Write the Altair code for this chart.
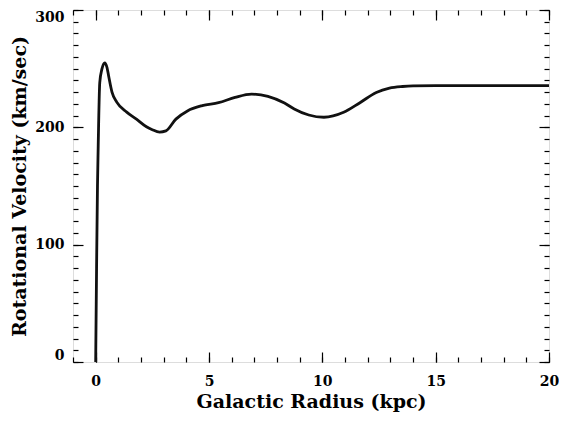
import altair as alt
import pandas as pd

# Rotation curve
radius = [0, 0.04, 0.08, 0.11, 0.18, 0.28, 0.40, 0.50, 0.57, 0.72, 0.93, 1.37,
          1.8, 2.24, 2.5, 2.82, 3.1, 3.54, 4.05, 4.7, 5.42, 6.15, 6.88, 7.6,
          8.33, 8.76, 9.4, 10.07, 10.94, 11.66, 12.38, 12.96, 13.54, 14.0, 15.0, 20.0]
velocity = [0, 80, 150, 182, 238, 250, 255, 251, 244, 230, 221.5, 213,
            207, 200.5, 198, 196, 197, 207, 214, 218.5, 221, 225.5, 228.3, 226.4,
            220.7, 215.7, 210.5, 208.6, 212.8, 221, 229.7, 233.4, 234.8, 235.3, 235.5, 235.5]

x_major = [0, 5, 10, 15, 20]
x_minor = list(range(-1, 21))
y_major = [0, 100, 200, 300]
y_minor = list(range(0, 301, 10))

df = pd.DataFrame({"r": radius, "v": velocity})

FONT = "DejaVu Serif"
xs = alt.Scale(domain=[-1, 20], nice=False, zero=False)
ys = alt.Scale(domain=[0, 300], nice=False, zero=False)


def ax(orient, values, size, labels, **kw):
    return alt.Axis(orient=orient, values=values, tickSize=size, offset=-size,
                    domain=False, grid=False, labels=labels, tickColor="black",
                    tickWidth=1.2, labelFont=FONT, labelFontWeight="bold",
                    labelFontSize=14, labelColor="black", titleFont=FONT,
                    titleFontWeight="bold", titleFontSize=19, titleColor="black",
                    labelAngle=0, **kw)


main = alt.Chart(df).mark_line(color="#111111", strokeWidth=2.8, interpolate="monotone").encode(
    x=alt.X("r:Q", scale=xs, title="Galactic Radius (kpc)",
            axis=ax("bottom", x_major, 10, True, labelPadding=12, titlePadding=4,
                    labelFlush=False)),
    y=alt.Y("v:Q", scale=ys, title="Rotational Velocity (km/sec)",
            axis=ax("left", y_major, 10, True, labelPadding=9, titlePadding=5,
                    labelFlush=True)),
)


def ghost(xo, xv, xsz, yo, yv, ysz):
    return alt.Chart(df).mark_line(opacity=0).encode(
        x=alt.X("r:Q", scale=xs, title=None, axis=ax(xo, xv, xsz, False)),
        y=alt.Y("v:Q", scale=ys, title=None, axis=ax(yo, yv, ysz, False)),
    )


chart = alt.layer(
    main,
    ghost("bottom", x_minor, 5, "left", y_minor, 5),
    ghost("top", x_major, 10, "right", y_major, 10),
    ghost("top", x_minor, 5, "right", y_minor, 5),
).resolve_axis(x="independent", y="independent").properties(
    width=476, height=352,
    autosize=alt.AutoSizeParams(type="none"),
    padding={"left": 65, "top": 2, "right": 10, "bottom": 52},
).configure_view(stroke="black", strokeWidth=1.6).configure(background="white")

chart.save("out.html", embed_options={"renderer": "svg", "actions": False})
